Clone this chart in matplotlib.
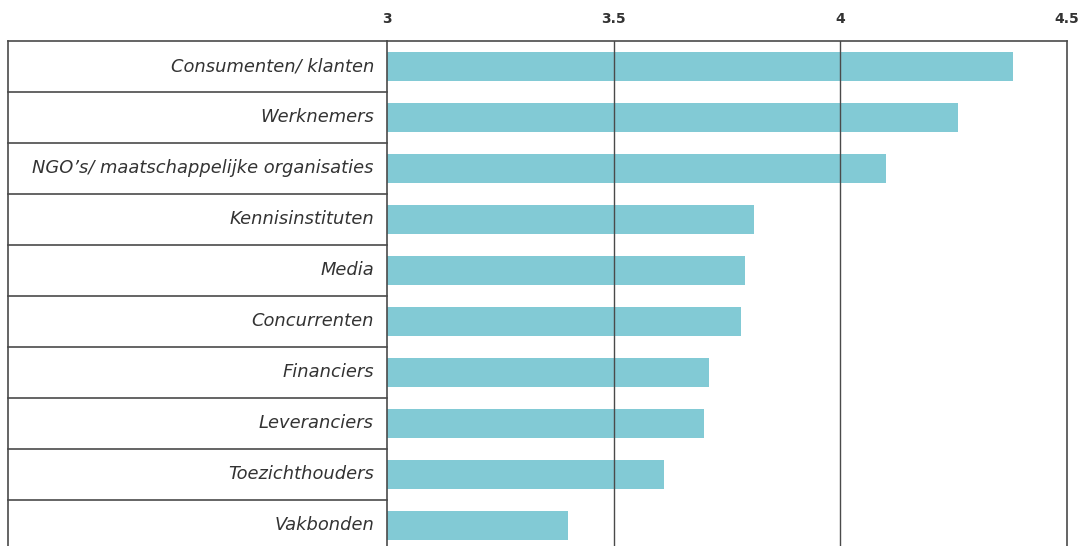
import matplotlib.pyplot as plt
import numpy as np

categorieen = ['Consumenten/ klanten', 'Werknemers', 'NGO\u2019s/ maatschappelijke organisaties',
               'Kennisinstituten', 'Media', 'Concurrenten', 'Financiers',
               'Leveranciers', 'Toezichthouders', 'Vakbonden']
scores = [4.38, 4.26, 4.10, 3.81, 3.79, 3.78, 3.71, 3.70, 3.61, 3.40]
ticks = [3, 3.5, 4, 4.5]
tick_labels = ['3', '3.5', '4', '4.5']

W, H = 1083, 546
fig = plt.figure(figsize=(W / 100, H / 100), dpi=100)
x0, x1, y_top, y_bot = 387, 1067, 41, 551
ax = fig.add_axes([x0 / W, 1 - y_bot / H, (x1 - x0) / W, (y_bot - y_top) / H])

lijn = '#4a4a4a'
y = np.arange(len(categorieen))
ax.barh(y, scores, height=0.57, color='#82cad5', left=0, zorder=1)
ax.set_xlim(3, 4.5)
ax.set_ylim(len(categorieen) - 0.5, -0.5)

for t in ticks[1:3]:
    ax.axvline(t, color=lijn, lw=1.0, zorder=3)

ax.spines['bottom'].set_visible(False)
for s in ['top', 'left', 'right']:
    ax.spines[s].set_color(lijn)
    ax.spines[s].set_linewidth(1.2)
    ax.spines[s].set_zorder(4)

ax.xaxis.tick_top()
ax.set_xticks(ticks)
ax.set_xticklabels(tick_labels, fontsize=10, fontweight='bold', color='#333333', family='DejaVu Sans')
ax.tick_params(axis='x', length=0, pad=11)
ax.set_yticks([])

# linkerkader met labels
trans = ax.get_yaxis_transform()
xl = -(x0 - 8) / (x1 - x0)
ax.plot([xl, xl], [-0.5, len(categorieen) - 0.5], color=lijn, lw=1.2, transform=trans, clip_on=False)
for i in range(len(categorieen)):
    ax.plot([xl, 0], [i - 0.5, i - 0.5], color=lijn, lw=1.2, transform=trans, clip_on=False)
for i, naam in enumerate(categorieen):
    ax.text(-13 / (x1 - x0), i, naam, transform=trans, ha='right', va='center',
            fontsize=12.9, style='italic', color='#333333', family='DejaVu Sans')

fig.savefig('out.png', dpi=100)
